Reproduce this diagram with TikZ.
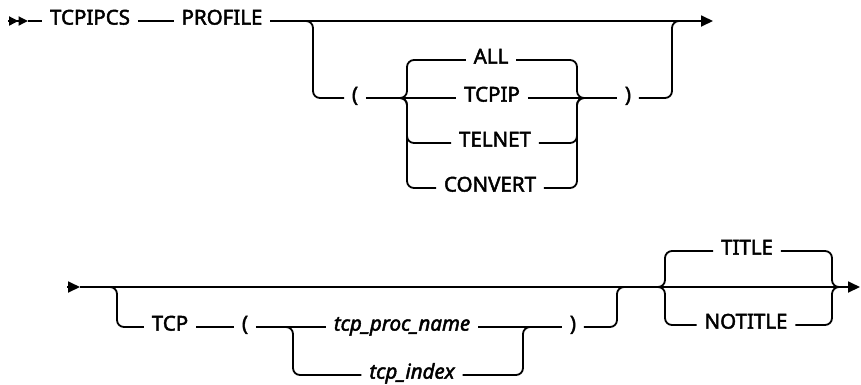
\documentclass[tikz,border=0pt]{standalone}
\usepackage{fontspec}
\setmainfont{Noto Sans}
\newfontfamily\kwf{Noto Sans}[FakeBold=2.2]
\newfontfamily\varf{Noto Sans Italic}[FakeBold=2.2]
\usetikzlibrary{arrows.meta}
\begin{document}
\begin{tikzpicture}[x=1pt,y=-1pt,
  line width=1.8pt, line cap=butt,
  kw/.style={inner xsep=7pt, inner ysep=0pt, text height=0.72em, text depth=0pt, font=\fontsize{20.5}{24}\kwf},
  var/.style={kw, font=\fontsize{20.5}{24}\varf},
  rl/.style={rounded corners=7pt},
  tip/.style={-{Triangle[length=12pt,width=11pt]}}
]
\useasboundingbox (0,0) rectangle (861,384);
% ---------- row 1 ----------
\coordinate (a0) at (8,21);
\coordinate (a1) at (28,21);
\node[kw] (tcpipcs) at (90,21) {TCPIPCS};
\node[kw] (profile) at (222,21) {PROFILE};
\coordinate (e1) at (713,21);
\draw[-{Triangle[length=9.5pt,width=9pt]Triangle[length=9.5pt,width=9pt]}] (a0) -- (a1);
\draw (a1) -- (tcpipcs.west);
\draw (tcpipcs) -- (profile);
\draw[tip] (profile.east) -- (e1);
\node[kw] (lp1) at (355,98) {(};
\coordinate (b1) at (304,21);
\draw[rl] (b1) -| (313,98) -- (lp1.west);
\node[kw] (all) at (491,60) {ALL};
\node[kw] (tcpip) at (492,98) {TCPIP};
\node[kw] (telnet) at (495,143) {TELNET};
\node[kw] (convert) at (490,188) {CONVERT};
\node[kw] (rp1) at (628,98) {)};
\coordinate (jl1) at (398,98);
\coordinate (jr1) at (586,98);
\draw (lp1.east) -- (tcpip.west);
\draw (tcpip.east) -- (rp1.west);
\draw[rl] (jl1) -| (407,60) -- (all.west);
\draw[rl] (jl1) -| (407,143) -- (telnet.west);
\draw[rl] (jl1) -| (407,188) -- (convert.west);
\draw[rl] (all.east) -| (577,98) -- (jr1);
\draw[rl] (telnet.east) -| (577,98) -- (jr1);
\draw[rl] (convert.east) -| (577,98) -- (jr1);
\coordinate (m1) at (681,21);
\draw[rl] (rp1.east) -| (672,21) -- (m1);
% ---------- row 2 ----------
\coordinate (s2) at (67,287);
\coordinate (s2b) at (80,287);
\coordinate (e2) at (860,287);
\draw[tip] (s2) -- (s2b);
\draw[tip] (s2b) -- (e2);
\node[kw] (tcp) at (170,327) {TCP};
\node[kw] (lp2) at (245,327) {(};
\node[var] (pname) at (402,327) {tcp\_proc\_name};
\node[var] (pidx) at (412,375) {tcp\_index};
\node[kw] (rp2) at (573,327) {)};
\coordinate (b2) at (108,287);
\draw[rl] (b2) -| (117,327) -- (tcp.west);
\draw (tcp) -- (lp2);
\draw (lp2.east) -- (pname.west);
\coordinate (jl2) at (284,327);
\draw[rl] (jl2) -| (293,375) -- (pidx.west);
\draw (pname.east) -- (rp2.west);
\coordinate (jr2) at (532,327);
\draw[rl] (pidx.east) -| (523,327) -- (jr2);
\coordinate (m2) at (626,287);
\draw[rl] (rp2.east) -| (617,287) -- (m2);
\node[kw] (title) at (747,251) {TITLE};
\node[kw] (notitle) at (746,325) {NOTITLE};
\coordinate (jl3) at (656,287);
\coordinate (jr3) at (841,287);
\draw[rl] (jl3) -| (665,251) -- (title.west);
\draw[rl] (jl3) -| (665,325) -- (notitle.west);
\draw[rl] (title.east) -| (832,287) -- (jr3);
\draw[rl] (notitle.east) -| (832,287) -- (jr3);
\end{tikzpicture}
\end{document}
